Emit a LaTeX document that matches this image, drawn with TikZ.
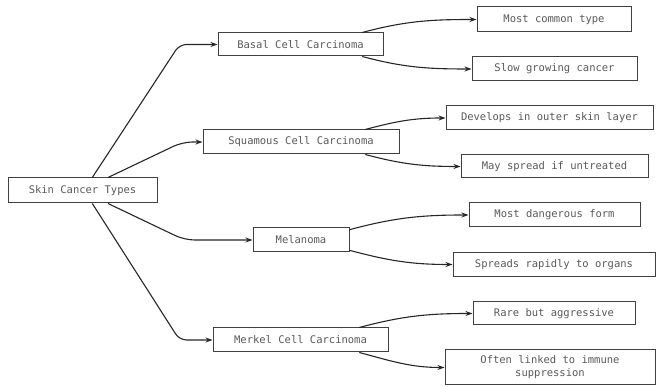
\documentclass[tikz,border=0pt]{standalone}
\usepackage{fontspec}
\setmonofont{DejaVu Sans Mono}
\usetikzlibrary{arrows.meta}
\tikzset{
  box/.style={draw=black!75, line width=1pt, fill=white, inner sep=0pt,
    font=\ttfamily\fontsize{10.5}{13}\selectfont, text=black!65, align=center},
  arr/.style={draw=black!85, line width=1.1pt, -{Stealth[length=7pt,width=5pt]}},
  elbow/.style={arr, rounded corners=7pt}
}
\begin{document}
\begin{tikzpicture}[x=1pt,y=1pt]
\useasboundingbox (0,0) rectangle (657,387);
\node[box, minimum width=149pt, minimum height=25pt] (root) at (82.5,196.5) {Skin Cancer Types};
\node[box, minimum width=165pt, minimum height=23pt] (basal) at (300.5,342.5) {Basal Cell Carcinoma};
\node[box, minimum width=154pt, minimum height=25pt] (mct) at (554,367.5) {Most common type};
\node[box, minimum width=165pt, minimum height=24pt] (slow) at (554.5,318) {Slow growing cancer};
\node[box, minimum width=196pt, minimum height=24pt] (squam) at (301,245) {Squamous Cell Carcinoma};
\node[box, minimum width=207pt, minimum height=24pt] (dev) at (549.5,269) {Develops in outer skin layer};
\node[box, minimum width=187pt, minimum height=23pt] (may) at (554.5,220.5) {May spread if untreated};
\node[box, minimum width=96pt, minimum height=24pt] (mel) at (301,147) {Melanoma};
\node[box, minimum width=171pt, minimum height=24pt] (mdf) at (554.5,172) {Most dangerous form};
\node[box, minimum width=202pt, minimum height=24pt] (spr) at (554,122.5) {Spreads rapidly to organs};
\node[box, minimum width=175pt, minimum height=24pt] (merkel) at (300.5,47) {Merkel Cell Carcinoma};
\node[box, minimum width=162pt, minimum height=23pt] (rare) at (554,73.5) {Rare but aggressive};
\node[box, minimum width=210pt, minimum height=35pt] (often) at (550,19.5) {Often linked to immune\\suppression};

\draw[elbow] (root.53) -- ([xshift=-38pt]basal.west) -- (basal.west);
\draw[elbow, rounded corners=10pt] (root.27) -- ([xshift=-20pt]squam.west) -- (squam.west);
\draw[elbow, rounded corners=10pt] (root.-27) -- ([xshift=-68pt]mel.west) -- (mel.west);
\draw[elbow] (root.-53) -- ([xshift=-33pt]merkel.west) -- (merkel.west);

\draw[arr] (basal.11) to[out=15,in=180] (mct.west);
\draw[arr] (basal.-11) to[out=-15,in=180] (slow.west);
\draw[arr] (squam.11) to[out=15,in=180] (dev.west);
\draw[arr] (squam.-11) to[out=-15,in=180] (may.west);
\draw[arr] (mel.12) to[out=15,in=180] (mdf.west);
\draw[arr] (mel.-12) to[out=-15,in=180] (spr.west);
\draw[arr] (merkel.12) to[out=15,in=180] (rare.west);
\draw[arr] (merkel.-12) to[out=-15,in=180] (often.west);
\end{tikzpicture}
\end{document}
